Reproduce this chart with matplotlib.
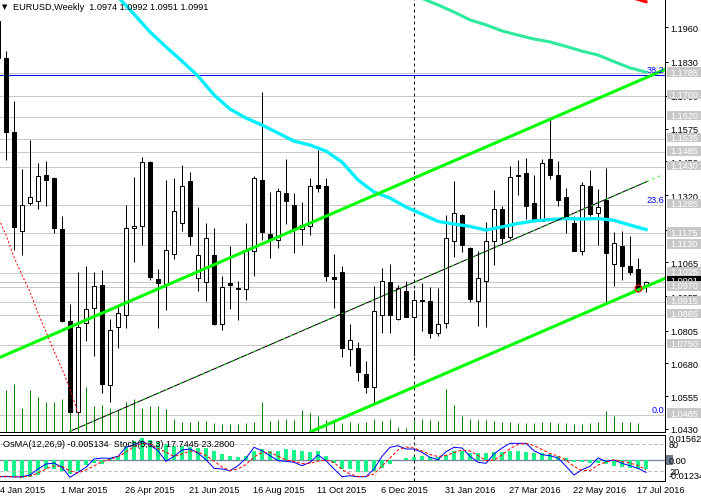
"""
EURUSD weekly chart, MetaTrader look: candles, volumes, moving averages,
channel trendlines, level labels and an OsMA + Stochastic sub-window.
"""

import matplotlib
matplotlib.use("Agg")
import matplotlib.pyplot as plt
import numpy as np
from matplotlib.patches import Rectangle
from matplotlib.transforms import blended_transform_factory

plt.rcParams["font.family"] = ["Liberation Sans", "DejaVu Sans"]

# ── Geometry / style ──────────────────────────────────────────────────────────
W, H = 701, 502
PX = 0.72          # one pixel in points
FS = 6.6
BODY = 0.55        # candle body width, in weeks

# ── Weekly candles, week 0 = 4 Jan 2015 ──────────────────────────────────────
opens = [
    1.1985, 1.1844, 1.1563, 1.1186, 1.1290, 1.1298, 1.1398, 1.1386, 1.1192, 1.0840,
    1.0494, 1.0833, 1.0890, 1.0979, 1.0599, 1.0817, 1.0864, 1.1195, 1.1202, 1.1449,
    1.1002, 1.0981, 1.1096, 1.1214, 1.1375, 1.1004, 1.0989, 1.1093, 1.0829, 1.0987,
    1.0969, 1.0963, 1.1109, 1.1380, 1.1173, 1.1151, 1.1329, 1.1284, 1.1192, 1.1205,
    1.1359, 1.1355, 1.1008, 1.1027, 1.0735, 1.0739, 1.0640, 1.0589, 1.0866, 1.0991,
    1.0849, 1.0957, 1.0855, 1.0921, 1.0917, 1.0795, 1.0833, 1.1148, 1.1245, 1.1120,
    1.0919, 1.0995, 1.1145, 1.1268, 1.1160, 1.1399, 1.1406, 1.1290, 1.1224, 1.1459,
    1.1398, 1.1313, 1.1214, 1.1109, 1.1355, 1.1252, 1.1303, 1.1059, 1.1126, 1.1050,
    1.1040, 1.0974,
]
highs = [
    1.2011, 1.1870, 1.1680, 1.1421, 1.1531, 1.1444, 1.1451, 1.1391, 1.1242, 1.0905,
    1.1028, 1.1051, 1.1029, 1.1036, 1.0849, 1.0899, 1.1284, 1.1390, 1.1465, 1.1452,
    1.1040, 1.1380, 1.1386, 1.1436, 1.1410, 1.1276, 1.1214, 1.1195, 1.1014, 1.1128,
    1.0994, 1.1214, 1.1394, 1.1715, 1.1334, 1.1350, 1.1459, 1.1329, 1.1294, 1.1386,
    1.1493, 1.1386, 1.1097, 1.1052, 1.0830, 1.0760, 1.0688, 1.0976, 1.1042, 1.1060,
    1.0980, 1.0993, 1.0960, 1.0985, 1.0970, 1.0967, 1.1245, 1.1374, 1.1249, 1.1122,
    1.1109, 1.1218, 1.1342, 1.1281, 1.1433, 1.1455, 1.1463, 1.1398, 1.1459, 1.1611,
    1.1452, 1.1348, 1.1243, 1.1372, 1.1418, 1.1344, 1.1423, 1.1179, 1.1183, 1.1164,
    1.1080, 1.0992,
]
lows = [
    1.1802, 1.1456, 1.1113, 1.1094, 1.1285, 1.1268, 1.1279, 1.1177, 1.0838, 1.0491,
    1.0487, 1.0766, 1.0709, 1.0566, 1.0532, 1.0739, 1.0815, 1.1065, 1.1132, 1.0998,
    1.0815, 1.0885, 1.1079, 1.1183, 1.1132, 1.0955, 1.0917, 1.0826, 1.0806, 1.0887,
    1.0846, 1.0923, 1.1014, 1.1151, 1.1082, 1.1118, 1.1211, 1.1101, 1.1132, 1.1170,
    1.1332, 1.0995, 1.0891, 1.0705, 1.0671, 1.0614, 1.0566, 1.0528, 1.0795, 1.0796,
    1.0846, 1.0855, 1.0708, 1.0803, 1.0777, 1.0785, 1.0814, 1.1084, 1.1104, 1.0913,
    1.0824, 1.0820, 1.1056, 1.1135, 1.1154, 1.1322, 1.1230, 1.1218, 1.1221, 1.1383,
    1.1281, 1.1177, 1.1108, 1.1094, 1.1243, 1.1132, 1.0913, 1.0974, 1.0999, 1.1017,
    1.0953, 1.0951,
]
closes = [
    1.1844, 1.1563, 1.1201, 1.1284, 1.1313, 1.1393, 1.1380, 1.1195, 1.0843, 1.0494,
    1.0819, 1.0887, 1.0974, 1.0601, 1.0807, 1.0871, 1.1195, 1.1204, 1.1446, 1.1010,
    1.0986, 1.1111, 1.1260, 1.1355, 1.1164, 1.1093, 1.1157, 1.0829, 1.0972, 1.0980,
    1.0965, 1.1109, 1.1386, 1.1182, 1.1151, 1.1337, 1.1300, 1.1192, 1.1209, 1.1355,
    1.1347, 1.1014, 1.1002, 1.0737, 1.0768, 1.0646, 1.0591, 1.0881, 1.0993, 1.0866,
    1.0966, 1.0856, 1.0923, 1.0917, 1.0795, 1.0829, 1.1157, 1.1252, 1.1132, 1.0925,
    1.1004, 1.1145, 1.1268, 1.1158, 1.1389, 1.1395, 1.1281, 1.1221, 1.1444, 1.1398,
    1.1304, 1.1233, 1.1109, 1.1361, 1.1249, 1.1275, 1.1099, 1.1138, 1.1050, 1.1029,
    1.0960, 1.0991,
]
# tick volume (thousands); 433 fills the whole price pane
volumes = [
    40, 42, 48, 24, 42, 35, 30, 30, 33, 49, 46, 45, 26, 27, 24, 22, 30, 33, 24, 26,
    26, 23, 13, 10, 10, 11, 11, 9, 8, 8, 8, 9, 10, 30, 11, 12, 13, 12, 22, 19,
    16, 12, 10, 9, 10, 9, 10, 13, 11, 13, 5, 4, 13, 13, 12, 11, 43, 27, 16, 13,
    12, 12, 11, 10, 10, 9, 9, 9, 10, 10, 9, 9, 8, 8, 9, 10, 21, 16, 10, 10,
    9, 0,
]
VOL_FULL = 433

date_weeks = [0, 8, 16, 24, 32, 40, 48, 56, 64, 72, 80]
date_labels = ["4 Jan 2015", "1 Mar 2015", "26 Apr 2015", "21 Jun 2015", "16 Aug 2015",
               "11 Oct 2015", "6 Dec 2015", "31 Jan 2016", "27 Mar 2016", "22 May 2016",
               "17 Jul 2016"]
YEAR_SEP_WEEK = 52   # 3 Jan 2016

# ── Moving averages (read every other week) ───────────────────────────────────
ma_cyan_weeks = list(range(15, 82, 2))
ma_cyan = [1.2076, 1.2011, 1.1943, 1.1886, 1.1832, 1.1775, 1.1703, 1.1649, 1.1615, 1.1588,
           1.1558, 1.1527, 1.1512, 1.1489, 1.1447, 1.1379, 1.1333, 1.1310, 1.1276, 1.1249,
           1.1221, 1.1211, 1.1202, 1.1188, 1.1200, 1.1213, 1.1223, 1.1228, 1.1232, 1.1230,
           1.1232, 1.1225, 1.1207, 1.1190]
ma_slow_weeks = list(range(51, 82, 2))
ma_slow = [1.2099, 1.2071, 1.2046, 1.2019, 1.1989, 1.1970, 1.1947, 1.1931, 1.1916, 1.1905,
           1.1888, 1.1870, 1.1855, 1.1830, 1.1806, 1.1790]
ma_red_weeks = [78, 79, 80, 81]
ma_red = [1.2091, 1.2076, 1.2067, 1.2058]
red_dot_weeks = list(range(11))
red_dot = [1.1238, 1.1169, 1.1085, 1.1017, 1.0952, 1.0872, 1.0800, 1.0727, 1.0659, 1.0582,
           1.0491]

# ── Drawn objects ─────────────────────────────────────────────────────────────
chan_top_w, chan_top_p = [0.25, 83.375], [1.0703, 1.1800]
chan_low_w, chan_low_p = [39.125, 83.375], [1.0420, 1.1004]
mid_line_w, mid_line_p = [9.0, 81.125], [1.0421, 1.1373]
mid_ext_w, mid_ext_p = [81.125, 82.75], [1.1373, 1.1395]
touch_week, touch_price = 80, 1.0967

levels = [1.1785, 1.1700, 1.1620, 1.1535, 1.1485, 1.1430, 1.1285, 1.1175, 1.1130,
          1.1025, 1.0990, 1.0970, 1.0915, 1.0865, 1.0750, 1.0485]
fib_line = 1.1779
fib_texts = ["38.2", "23.6", "0.0"]
fib_prices = [1.1789, 1.1294, 1.0496]

price_ticks = [1.1960, 1.1830, 1.1700, 1.1575, 1.1450, 1.1320, 1.1190, 1.1065, 1.0935,
               1.0805, 1.0680, 1.0555, 1.0430]

# ── Sub-window: OsMA (x1e-3) and Stochastic ───────────────────────────────────
osma = [-3.1, -6.75, -10.43, -11.04, -10.43, -9.2, -5.52, -5.52, -6.57, -8.59,
        -6.57, -3.07, -1.41, -2.45, 1.04, 2.64, 7.79, 11.84, 13.5, 12.46,
        11.23, 9.82, 8.77, 8.77, 8.16, 7.18, 7.18, 5.71, 3.68, 2.27,
        1.66, 2.27, 5.71, 6.75, 5.71, 5.71, 6.75, 6.32, 5.34, 4.72,
        5.34, 2.27, -1.84, -5.09, -5.52, -7.18, -7.18, -6.57, -4.48, -2.02,
        0.3, 1.04, 1.66, 2.27, 1.66, 2.02, 3.25, 5.71, 5.34, 4.30,
        4.11, 4.11, 5.09, 5.09, 5.71, 5.71, 5.09, 4.30, 4.11, 3.68,
        2.64, 1.23, -1.04, -0.8, -1.41, -1.84, -2.45, -3.5, -3.87, -4.48,
        -5.09, -5.13]
stoch_main = [8.1, 9.0, 7.5, 8.1, 11.9, 25.1, 36.0, 38.2, 28.8, 6.8,
              17.8, 28.8, 47.0, 49.2, 48.6, 53.0, 72.8, 78.5, 85.9, 77.8,
              65.3, 42.0, 53.0, 66.8, 69.0, 60.2, 45.5, 26.6, 25.1, 21.3,
              32.3, 48.6, 72.8, 65.3, 54.3, 43.3, 42.0, 39.8, 32.3, 39.8,
              55.8, 43.3, 25.1, 8.1, 10.3, 8.1, 8.1, 25.1, 53.0, 72.8,
              76.3, 69.0, 69.0, 61.8, 50.8, 45.5, 63.1, 72.8, 71.2, 53.0,
              39.8, 37.6, 58.0, 71.2, 81.5, 81.5, 81.5, 65.3, 56.5, 54.3,
              49.2, 31.0, 11.9, 23.5, 31.0, 49.2, 42.0, 44.8, 37.6, 32.3,
              26.6, 17.7]
stoch_signal = [8.0, 8.1, 8.1, 7.5, 9.7, 16.3, 25.1, 32.3, 30.6, 20.7,
                16.3, 22.9, 31.7, 41.5, 45.9, 52.5, 62.4, 74.5, 81.1, 80.0,
                70.1, 62.4, 52.5, 58.0, 64.6, 62.4, 54.7, 42.6, 29.5, 21.8,
                25.1, 34.9, 51.4, 61.3, 61.3, 53.6, 44.8, 41.5, 37.1, 37.1,
                42.6, 44.8, 39.3, 24.0, 14.0, 8.6, 8.6, 14.1, 31.7, 49.2,
                66.8, 73.4, 71.2, 64.6, 56.9, 52.5, 54.7, 61.3, 66.8, 64.6,
                54.7, 43.7, 44.8, 55.8, 70.1, 78.9, 81.5, 76.7, 67.9, 59.1,
                53.6, 44.8, 30.6, 21.8, 21.8, 33.8, 40.4, 44.8, 41.5, 38.2,
                32.7, 23.3]
OSMA_LAST = -0.005134
STOCH_LAST = (17.7445, 23.2800)
OSMA_TOP, OSMA_BOTTOM = 15.62, -12.34


def px(x, y):
    """Pixel position (from top-left) to figure fraction."""
    return x / W, 1 - y / H


weeks = np.arange(len(opens))

fig = plt.figure(figsize=(W / 100, H / 100), dpi=100)
ax = fig.add_axes([0, (H - 433) / H, 665 / W, 433 / H])
ax_ind = fig.add_axes([0, (H - 481.5) / H, 665 / W, 46 / H])

# ── Price pane ────────────────────────────────────────────────────────────────
ax.set_xlim(0.25, 83.375)
ax.set_ylim(1.04184, 1.20686)

for lv in levels:
    ax.axhline(lv, color="#C8C8C8", lw=PX, zorder=0.5)
ax.axhline(fib_line, color="#0000FF", lw=PX, zorder=0.6)
ax.axvline(YEAR_SEP_WEEK, color="black", lw=PX, dashes=(3, 3), zorder=0.7)

vol_trans = blended_transform_factory(ax.transData, ax.transAxes)
ax.vlines(weeks, 0, np.array(volumes) / VOL_FULL, transform=vol_trans,
          color="#008000", lw=PX, zorder=1)

for i, (o, h, l, c) in enumerate(zip(opens, highs, lows, closes)):
    ax.vlines(i, l, h, color="black", lw=PX, zorder=3)
    lo, hi = min(o, c), max(o, c)
    ax.add_patch(Rectangle((i - BODY / 2, lo), BODY, max(hi - lo, 1e-6),
                           facecolor="white" if c >= o else "black",
                           edgecolor="black", lw=PX, zorder=4))

ax.plot(ma_cyan_weeks, ma_cyan, color="#00F0FF", lw=2.4, zorder=5)
ax.plot(ma_slow_weeks, ma_slow, color="#2EEA9C", lw=2.2, zorder=5)
ax.plot(ma_red_weeks, ma_red, color="#FF0000", lw=2.2, zorder=5)
ax.plot(red_dot_weeks, red_dot, color="#FF0000", lw=PX, dashes=(2, 2), zorder=5)

ax.plot(chan_top_w, chan_top_p, color="#00FF00", lw=2.2, zorder=6)
ax.plot(chan_low_w, chan_low_p, color="#00FF00", lw=2.2, zorder=6)
ax.plot(mid_line_w, mid_line_p, color="black", lw=PX, zorder=6)
ax.plot(mid_line_w, mid_line_p, color="#00FF00", lw=PX, dashes=(2, 6), zorder=6.5)
ax.plot(mid_ext_w, mid_ext_p, color="#00FF00", lw=PX, dashes=(2, 4), zorder=6.5)
ax.plot(touch_week, touch_price, "o", ms=5, mfc="none", mec="#FF0000", mew=0.8, zorder=7)

fib_trans = blended_transform_factory(ax.transAxes, ax.transData)
for txt, p in zip(fib_texts, fib_prices):
    ax.text(664 / 665, p, txt, transform=fib_trans, ha="right", va="baseline",
            color="#0000FF", fontsize=FS, zorder=7)

# right price scale
for side in ("left", "top"):
    ax.spines[side].set_visible(False)
for side in ("right", "bottom"):
    ax.spines[side].set_linewidth(PX)
ax.set_xticks([])
ax.yaxis.tick_right()
ax.set_yticks(price_ticks, [f"{t:.4f}" for t in price_ticks])
ax.tick_params(axis="y", direction="out", length=3 * PX, width=PX, pad=2 * PX,
               labelsize=FS, colors="black")

# grey level labels and the current price label
lab_h = 0.0036
for lv in levels:
    z = 5 if lv > closes[-1] - 0.0002 and lv < closes[-1] else 6
    ax.add_patch(Rectangle((667 / 665, lv + 0.0005 - lab_h / 2), 34 / 665, lab_h,
                           transform=fib_trans, facecolor="#C8C8C8", edgecolor="none",
                           clip_on=False, zorder=z))
    ax.text(670 / 665, lv + 0.0005, f"{lv:.4f}", transform=fib_trans, va="center",
            color="white", fontsize=FS, clip_on=False, zorder=z + 0.1)
ax.add_patch(Rectangle((667 / 665, closes[-1] + 0.0005 - lab_h / 2), 34 / 665, lab_h,
                       transform=fib_trans, facecolor="black", edgecolor="none",
                       clip_on=False, zorder=5.5))
ax.text(670 / 665, closes[-1] + 0.0005, f"{closes[-1]:.4f}", transform=fib_trans,
        va="center", color="white", fontsize=FS, clip_on=False, zorder=5.6)

# ── Indicator pane ────────────────────────────────────────────────────────────
ax_ind.set_xlim(0.25, 83.375)
ax_ind.set_ylim(OSMA_BOTTOM, OSMA_TOP)
ax_ind.bar(weeks, osma, width=0.5, color="#19F58A", zorder=2)
ax_ind.axhline(0, color="#778899", lw=PX * 1.3, zorder=1)
ax_ind.axvline(YEAR_SEP_WEEK, color="black", lw=PX, dashes=(3, 3), zorder=1.5)
ax_ind.set_xticks([])
ax_ind.set_yticks([])
ax_ind.spines["left"].set_visible(False)
for side in ("right", "top", "bottom"):
    ax_ind.spines[side].set_linewidth(PX)

ax_st = ax_ind.twinx()
ax_st.set_ylim(-0.2, 100.9)
ax_st.axhline(80, color="#B4B4B4", lw=PX, dashes=(3, 3))
ax_st.axhline(20, color="#B4B4B4", lw=PX, dashes=(3, 3))
ax_st.plot(weeks, stoch_main, color="#0000FF", lw=PX)
ax_st.plot(weeks, stoch_signal, color="#FF0000", lw=PX, dashes=(3, 2))
ax_st.set_yticks([])
for sp in ax_st.spines.values():
    sp.set_visible(False)

ind_trans = blended_transform_factory(ax_ind.transAxes, ax_ind.transData)
st_trans = blended_transform_factory(ax_st.transAxes, ax_st.transData)
lx = 669 / 665
ax_ind.text(lx, OSMA_TOP, f"{OSMA_TOP / 1000:.5f}", transform=ind_trans, va="top",
            fontsize=FS, clip_on=False)
ax_ind.text(lx, OSMA_BOTTOM, f"{OSMA_BOTTOM / 1000:.5f}", transform=ind_trans,
            va="bottom", fontsize=FS, clip_on=False)
ax_ind.add_patch(Rectangle((666 / 665, -3.2), 7 / 665, 6.4, transform=ind_trans,
                           facecolor="#6E7B8B", edgecolor="none", clip_on=False))
ax_ind.text(lx, 0, "0.00", transform=ind_trans, va="center", fontsize=FS, clip_on=False)
ax_st.text(lx, 80, "80", transform=st_trans, va="center", fontsize=FS, clip_on=False)
ax_st.text(lx, 20, "20", transform=st_trans, va="center", fontsize=FS, clip_on=False)

date_trans = blended_transform_factory(ax_ind.transData, ax_ind.transAxes)
for w, lab in zip(date_weeks, date_labels):
    ax_ind.text(max(w - 0.1, 0.22), -0.205, lab, transform=date_trans, ha="left",
                va="center", fontsize=FS, clip_on=False)

# ── Window captions ───────────────────────────────────────────────────────────
fig.text(*px(2, 7), "\u25BC", fontsize=5, va="center", family="DejaVu Sans")
fig.text(*px(13, 7),
         f"EURUSD,Weekly  {opens[-1]:.4f} {highs[-1]:.4f} {lows[-1]:.4f} {closes[-1]:.4f}",
         va="center", fontsize=FS)
fig.text(*px(3, 444.5),
         f"OsMA(12,26,9) {OSMA_LAST:.6f}  Stoch(5,3,3) {STOCH_LAST[0]:.4f} {STOCH_LAST[1]:.4f}",
         va="center", fontsize=FS)

fig.savefig("out.png", dpi=100, facecolor="white")
